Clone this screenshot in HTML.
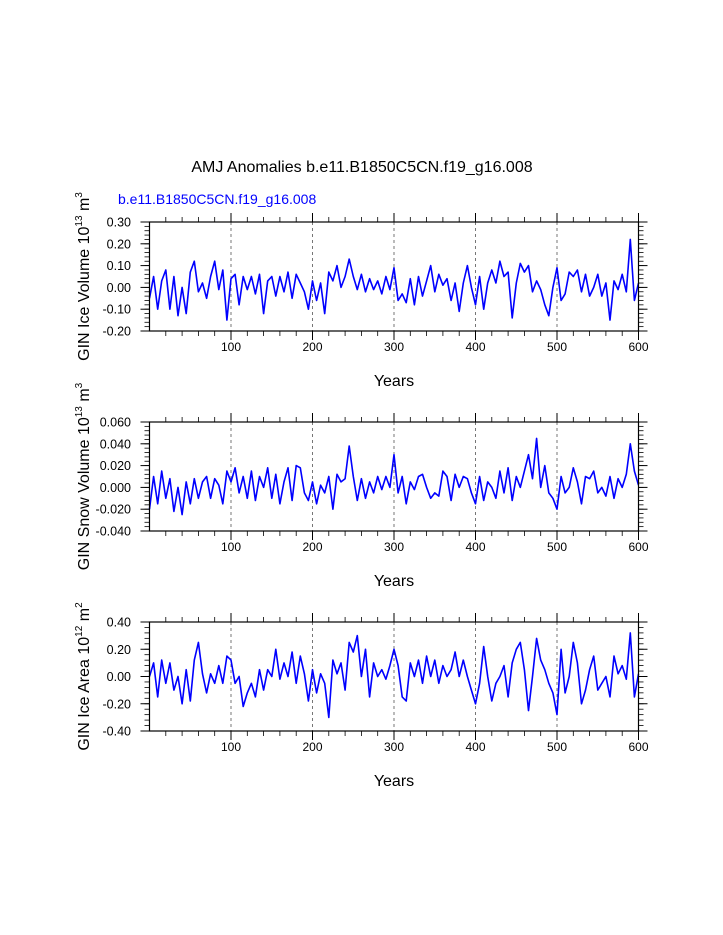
<!DOCTYPE html>
<html><head><meta charset="utf-8"><style>
html,body{margin:0;padding:0;background:#fff;}
svg{display:block;font-family:"Liberation Sans",Arial,sans-serif;}
</style></head><body>
<svg id="chart" width="723" height="935" viewBox="0 0 723 935" xmlns="http://www.w3.org/2000/svg">
<text x="362" y="172" font-size="16" text-anchor="middle">AMJ Anomalies b.e11.B1850C5CN.f19_g16.008</text>
<text x="118" y="204" font-size="14" fill="#0000ff">b.e11.B1850C5CN.f19_g16.008</text>
<g id="panels"></g>
</svg>
<script>
const years = [];
for (let y = 0; y <= 600; y += 5) years.push(y);
const xTicks = [100, 200, 300, 400, 500, 600];
const iceVolume = [-0.05,0.05,-0.10,0.03,0.08,-0.10,0.05,-0.13,0.0,-0.12,0.07,0.12,-0.02,0.02,-0.05,0.05,0.12,-0.01,0.08,-0.15,
0.04,0.06,-0.08,0.05,-0.01,0.05,-0.03,0.06,-0.12,0.03,0.05,-0.04,0.05,-0.02,0.07,-0.05,0.06,0.02,-0.02,-0.10,
0.03,-0.06,0.02,-0.12,0.07,0.03,0.10,0.0,0.05,0.13,0.05,-0.01,0.06,-0.02,0.04,-0.01,0.03,-0.03,0.05,-0.01,
0.09,-0.06,-0.03,-0.07,0.04,-0.08,0.05,-0.04,0.03,0.10,-0.02,0.06,0.01,0.04,-0.06,0.02,-0.11,0.02,0.10,0.0,
-0.08,0.05,-0.10,0.02,0.08,0.02,0.12,0.05,0.07,-0.14,0.02,0.11,0.07,0.10,-0.02,0.03,-0.01,-0.08,-0.13,0.0,
0.09,-0.06,-0.03,0.07,0.05,0.08,-0.02,0.06,-0.04,0.0,0.06,-0.04,0.02,-0.15,0.03,-0.01,0.06,-0.02,0.22,-0.06,0.02];
const snowVolume = [-0.02,0.01,-0.015,0.015,-0.01,0.008,-0.022,0.0,-0.025,0.005,-0.015,0.008,-0.010,0.005,0.01,-0.01,0.008,0.002,-0.015,0.015,
0.005,0.018,-0.005,0.01,-0.01,0.015,-0.012,0.01,0.0,0.018,-0.01,0.012,-0.015,0.005,0.018,-0.012,0.02,0.018,-0.005,-0.012,
0.005,-0.015,0.002,-0.005,0.01,-0.02,0.012,0.005,0.008,0.038,0.01,-0.012,0.008,-0.01,0.005,-0.005,0.01,-0.002,0.01,0.0,
0.03,-0.005,0.01,-0.015,0.005,-0.002,0.01,0.012,0.0,-0.01,-0.005,-0.008,0.015,0.01,-0.012,0.012,0.0,0.01,0.008,-0.005,
-0.015,0.01,-0.012,0.005,0.0,-0.01,0.015,-0.005,0.018,-0.012,0.01,0.0,0.015,0.03,0.008,0.045,0.0,0.02,-0.005,-0.01,
-0.02,0.01,-0.005,0.0,0.018,0.005,-0.015,0.01,0.008,0.015,-0.005,0.0,-0.008,0.01,-0.01,0.008,0.0,0.012,0.04,0.015,0.002];
const iceArea = [0.0,0.1,-0.15,0.12,-0.05,0.1,-0.1,0.0,-0.2,0.05,-0.18,0.12,0.25,0.02,-0.12,0.02,-0.05,0.08,-0.05,0.15,
0.12,-0.05,0.0,-0.22,-0.12,-0.05,-0.15,0.05,-0.1,0.05,0.0,0.2,-0.02,0.1,0.0,0.18,-0.05,0.15,0.02,-0.18,
0.05,-0.12,0.02,-0.05,-0.3,0.12,0.02,0.1,-0.1,0.25,0.18,0.3,0.0,0.2,-0.15,0.1,0.0,0.05,-0.02,0.08,
0.2,0.08,-0.15,-0.18,0.1,0.0,0.12,-0.05,0.15,0.0,0.12,-0.05,0.08,0.0,0.05,0.18,0.0,0.12,0.0,-0.1,
-0.2,-0.05,0.22,0.0,-0.18,-0.05,0.0,0.08,-0.15,0.1,0.2,0.25,0.05,-0.25,0.0,0.28,0.12,0.05,-0.05,-0.12,
-0.28,0.2,-0.12,0.0,0.25,0.1,-0.2,-0.1,0.05,0.15,-0.1,-0.05,0.0,-0.15,0.15,0.02,0.08,-0.02,0.32,-0.15,0.02];
const p1Ticks = [0.30,0.20,0.10,0.00,-0.10,-0.20];
const p2Ticks = [0.060,0.040,0.020,0.000,-0.020,-0.040];
const p3Ticks = [0.40,0.20,0.00,-0.20,-0.40];

const NS = "http://www.w3.org/2000/svg";
const root = document.getElementById("panels");
function mk(tag, attrs, parent) {
  const e = document.createElementNS(NS, tag);
  for (const k in attrs) e.setAttribute(k, attrs[k]);
  (parent || root).appendChild(e);
  return e;
}
const L = 149.5, R = 638.5;
function xs(v) { return L + (v / 600) * (R - L); }

function panel(cfg) {
  const g = mk("g", {});
  
  
  const T = cfg.top, B = cfg.top + 109;
  const ys = v => T + (cfg.max - v) / (cfg.max - cfg.min) * (B - T);
  // grid
  for (let v = 100; v < 600; v += 100) {
    const gl = mk("line", {x1: xs(v), x2: xs(v), y1: T, y2: B, stroke: "#555", "stroke-width": 0.8, "stroke-dasharray": "3,3"}, g);
    
    
  }
  // minor x ticks
  for (let v = 20; v < 600; v += 20) {
    if (v % 100 === 0) continue;
    mk("line", {x1: xs(v), x2: xs(v), y1: B, y2: B + 5, stroke: "#000", "stroke-width": 0.8}, g);
    mk("line", {x1: xs(v), x2: xs(v), y1: T, y2: T - 5, stroke: "#000", "stroke-width": 0.8}, g);
  }
  for (const v of xTicks) {
    mk("line", {x1: xs(v), x2: xs(v), y1: B, y2: B + 9, stroke: "#000", "stroke-width": 1}, g);
    mk("line", {x1: xs(v), x2: xs(v), y1: T, y2: T - 9, stroke: "#000", "stroke-width": 1}, g);
    const t = mk("text", {x: xs(v), y: B + 20, "font-size": 12, "text-anchor": "middle"}, g);
    
    
    t.textContent = v;
  }
  // y minor ticks
  const n = Math.round((cfg.max - cfg.min) / cfg.minor);
  for (let i = 0; i <= n; i++) {
    const y = T + i * (B - T) / n;
    mk("line", {x1: L, x2: L - 5, y1: y, y2: y, stroke: "#000", "stroke-width": 0.8}, g);
    mk("line", {x1: R, x2: R + 5, y1: y, y2: y, stroke: "#000", "stroke-width": 0.8}, g);
  }
  for (const v of cfg.ticks) {
    const y = ys(v);
    mk("line", {x1: L, x2: L - 9, y1: y, y2: y, stroke: "#000", "stroke-width": 1}, g);
    mk("line", {x1: R, x2: R + 9, y1: y, y2: y, stroke: "#000", "stroke-width": 1}, g);
    const t = mk("text", {x: 131, y: y + 4.5, "font-size": 12.5, "text-anchor": "end"}, g);
    
    
    t.textContent = v.toFixed(cfg.dec);
  }
  // series
  let d = "";
  cfg.values.forEach((v, i) => { d += (i ? "L" : "M") + xs(years[i]).toFixed(1) + "," + ys(v).toFixed(1); });
  const p = mk("path", {d: d, fill: "none", stroke: "#0000ff", "stroke-width": 1.6, "stroke-linejoin": "round"}, g);
  
  
  const box = mk("rect", {x: L, y: T, width: R - L, height: B - T, fill: "none", stroke: "#000", "stroke-width": 1.2}, g);
  
  
  const xt = mk("text", {x: 394, y: B + 55, "font-size": 16, "text-anchor": "middle"}, g);
  
  
  xt.textContent = "Years";
  const yt = mk("text", {x: 0, y: 0, "font-size": 16, "text-anchor": "middle", transform: "translate(89," + ((T + B) / 2) + ") rotate(-90)"}, g);
  
  
  yt.innerHTML = cfg.label + ' 10<tspan font-size="10" dy="-7">' + cfg.exp + '</tspan><tspan dy="7"> m</tspan><tspan font-size="10" dy="-7">' + cfg.unit + '</tspan>';
}
panel({name: "ice-volume-panel", top: 222, max: 0.30, min: -0.20, minor: 0.02, ticks: p1Ticks, dec: 2, values: iceVolume, label: "GIN Ice Volume", exp: "13", unit: "3"});
panel({name: "snow-volume-panel", top: 422, max: 0.060, min: -0.040, minor: 0.004, ticks: p2Ticks, dec: 3, values: snowVolume, label: "GIN Snow Volume", exp: "13", unit: "3"});
panel({name: "ice-area-panel", top: 622, max: 0.40, min: -0.40, minor: 0.04, ticks: p3Ticks, dec: 2, values: iceArea, label: "GIN Ice Area", exp: "12", unit: "2"});
</script>
</body></html>
